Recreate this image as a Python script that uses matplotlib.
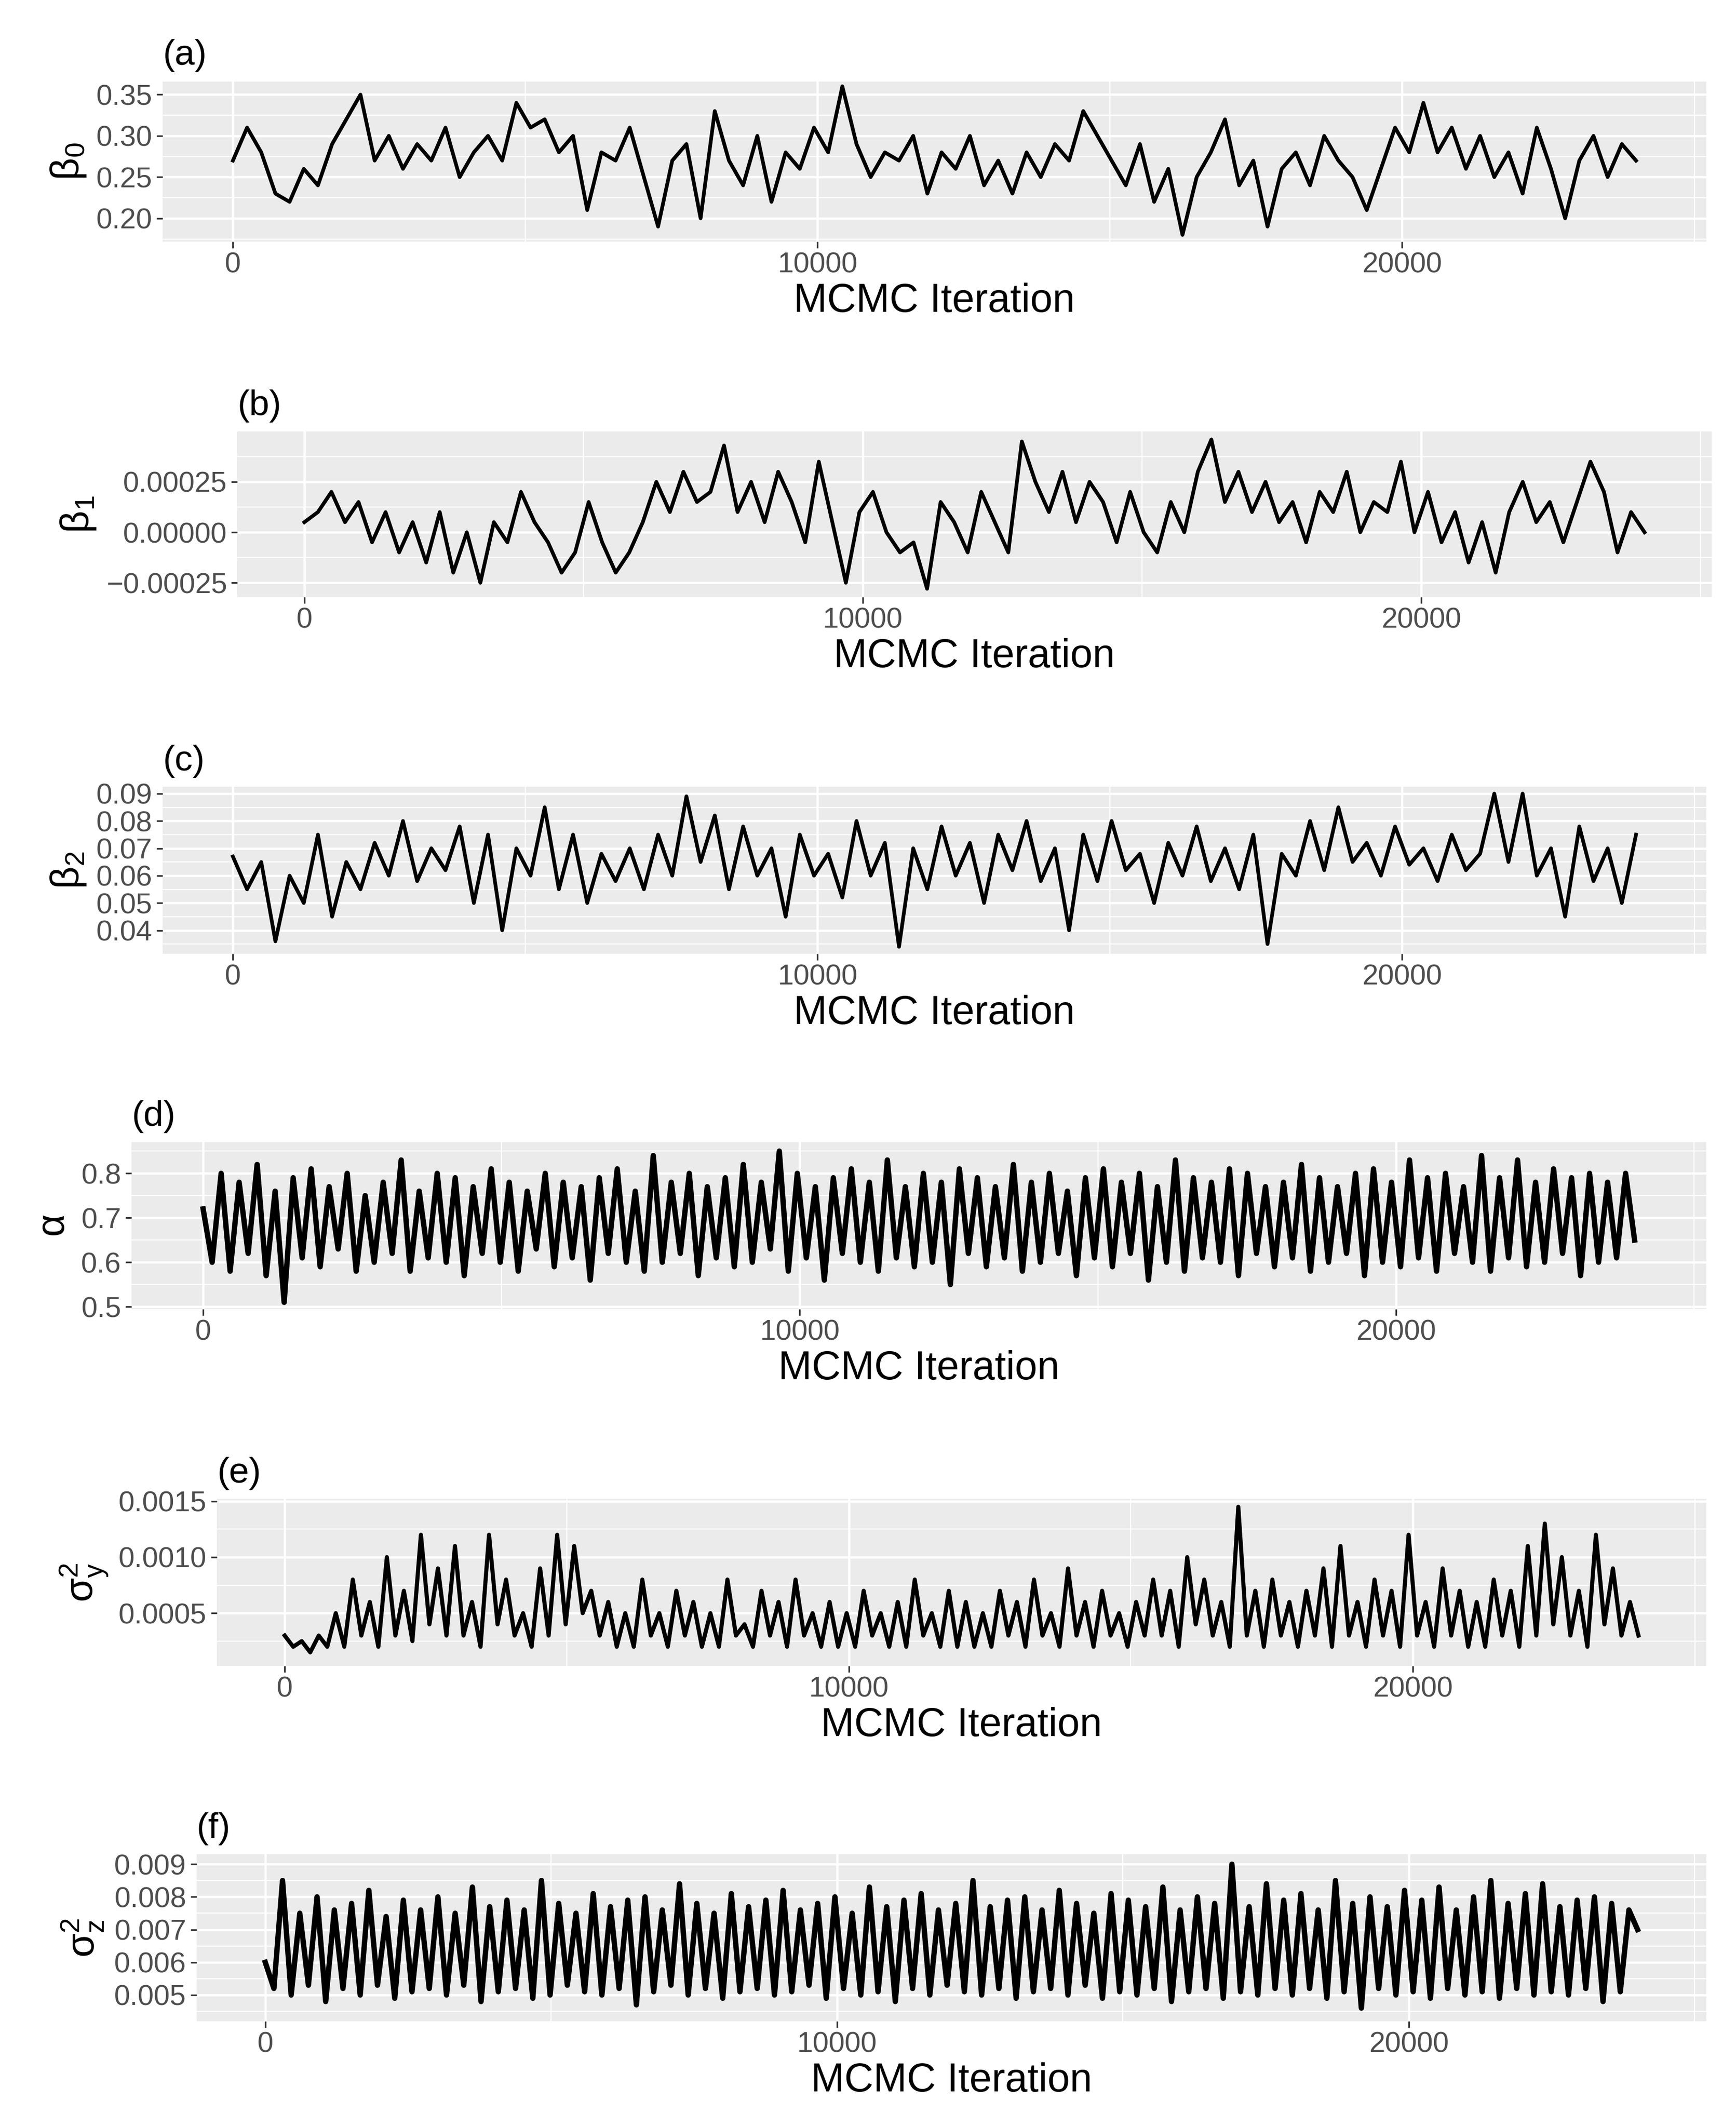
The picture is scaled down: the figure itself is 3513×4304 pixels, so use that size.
import numpy as np
import matplotlib
matplotlib.use("Agg")
import matplotlib.pyplot as plt
from matplotlib.ticker import FixedLocator

plt.rcParams['font.family'] = ['Liberation Sans', 'DejaVu Sans']

beta0 = [0.27,0.31,0.28,0.23,0.22,0.26,0.24,0.29,0.32,0.35,
         0.27,0.30,0.26,0.29,0.27,0.31,0.25,0.28,0.30,0.27,
         0.34,0.31,0.32,0.28,0.30,0.21,0.28,0.27,0.31,0.25,
         0.19,0.27,0.29,0.20,0.33,0.27,0.24,0.30,0.22,0.28,
         0.26,0.31,0.28,0.36,0.29,0.25,0.28,0.27,0.30,0.23,
         0.28,0.26,0.30,0.24,0.27,0.23,0.28,0.25,0.29,0.27,
         0.33,0.30,0.27,0.24,0.29,0.22,0.26,0.18,0.25,0.28,
         0.32,0.24,0.27,0.19,0.26,0.28,0.24,0.30,0.27,0.25,
         0.21,0.26,0.31,0.28,0.34,0.28,0.31,0.26,0.30,0.25,
         0.28,0.23,0.31,0.26,0.20,0.27,0.30,0.25,0.29,0.27]
beta1_e4 = [0.5,1.0,2.0,0.5,1.5,-0.5,1.0,-1.0,0.5,-1.5,
            1.0,-2.0,0.0,-2.5,0.5,-0.5,2.0,0.5,-0.5,-2.0,
            -1.0,1.5,-0.5,-2.0,-1.0,0.5,2.5,1.0,3.0,1.5,
            2.0,4.3,1.0,2.5,0.5,3.0,1.5,-0.5,3.5,0.5,
            -2.5,1.0,2.0,0.0,-1.0,-0.5,-2.8,1.5,0.5,-1.0,
            2.0,0.5,-1.0,4.5,2.5,1.0,3.0,0.5,2.5,1.5,
            -0.5,2.0,0.0,-1.0,1.5,0.0,3.0,4.6,1.5,3.0,
            1.0,2.5,0.5,1.5,-0.5,2.0,1.0,3.0,0.0,1.5,
            1.0,3.5,0.0,2.0,-0.5,1.0,-1.5,0.5,-2.0,1.0,
            2.5,0.5,1.5,-0.5,1.5,3.5,2.0,-1.0,1.0,0.0]
beta2 = [0.067,0.055,0.065,0.036,0.060,0.050,0.075,0.045,0.065,0.055,
         0.072,0.060,0.080,0.058,0.070,0.062,0.078,0.050,0.075,0.040,
         0.070,0.060,0.085,0.055,0.075,0.050,0.068,0.058,0.070,0.055,
         0.075,0.060,0.089,0.065,0.082,0.055,0.078,0.060,0.070,0.045,
         0.075,0.060,0.068,0.052,0.080,0.060,0.072,0.034,0.070,0.055,
         0.078,0.060,0.072,0.050,0.075,0.062,0.080,0.058,0.070,0.040,
         0.075,0.058,0.080,0.062,0.068,0.050,0.072,0.060,0.078,0.058,
         0.070,0.055,0.075,0.035,0.068,0.060,0.080,0.062,0.085,0.065,
         0.072,0.060,0.078,0.064,0.070,0.058,0.075,0.062,0.068,0.090,
         0.065,0.090,0.060,0.070,0.045,0.078,0.058,0.070,0.050,0.075]
alpha = [0.72,0.60,0.80,0.58,0.78,0.62,0.82,0.57,0.76,0.51,0.79,0.61,0.81,0.59,0.77,0.63,0.80,0.58,0.75,0.60,
         0.78,0.62,0.83,0.58,0.76,0.61,0.80,0.60,0.79,0.57,0.77,0.62,0.81,0.60,0.78,0.58,0.76,0.63,0.80,0.59,
         0.78,0.61,0.77,0.56,0.79,0.62,0.81,0.60,0.76,0.58,0.84,0.60,0.78,0.62,0.80,0.57,0.77,0.61,0.79,0.59,
         0.82,0.60,0.78,0.63,0.85,0.58,0.80,0.61,0.77,0.56,0.79,0.62,0.81,0.60,0.78,0.58,0.83,0.61,0.77,0.59,
         0.80,0.60,0.78,0.55,0.81,0.62,0.79,0.59,0.77,0.61,0.82,0.58,0.78,0.60,0.80,0.62,0.76,0.57,0.79,0.61,
         0.81,0.59,0.78,0.62,0.80,0.56,0.77,0.60,0.83,0.58,0.79,0.61,0.78,0.60,0.81,0.57,0.80,0.62,0.77,0.59,
         0.78,0.61,0.82,0.58,0.79,0.60,0.77,0.62,0.80,0.57,0.81,0.60,0.78,0.59,0.83,0.61,0.79,0.58,0.80,0.62,
         0.77,0.60,0.84,0.58,0.79,0.61,0.83,0.59,0.78,0.60,0.81,0.62,0.79,0.57,0.80,0.60,0.78,0.61,0.80,0.65]
sigma_y_e4 = [3,2,2.5,1.5,3,2,5,2,8,3,6,2,10,3,7,2.5,12,4,9,3,
              11,3,6,2,12,4,8,3,5,2,9,3,12,4,11,5,7,3,6,2,
              5,2,8,3,5,2,7,3,6,2,5,2,8,3,4,2,7,3,6,2,
              8,3,5,2,6,2,5,2,7,3,5,2,6,2,8,3,5,2,7,2,
              6,2,5,2,7,3,6,2,8,3,5,2,9,3,6,2,7,3,5,2,
              6,3,8,3,7,2,10,4,8,3,6,2,14.5,3,7,2,8,3,6,2,
              7,3,9,2,11,3,6,2,8,3,7,2,12,3,6,2,9,3,7,2,
              6,2,8,3,7,2,11,3,13,4,10,3,7,2,12,4,9,3,6,3]
sigma_z_e3 = [6.0,5.2,8.5,5.0,7.5,5.3,8.0,4.8,7.6,5.2,7.8,5.0,8.2,5.3,7.4,4.9,7.9,5.1,7.6,5.2,
              8.0,5.0,7.5,5.3,8.3,4.8,7.7,5.1,7.9,5.2,7.6,4.9,8.5,5.0,7.8,5.3,7.5,5.1,8.1,5.0,
              7.7,5.2,7.9,4.7,8.0,5.1,7.6,5.3,8.4,5.0,7.8,5.2,7.5,4.9,8.1,5.1,7.7,5.2,7.9,5.0,
              8.2,5.1,7.6,5.3,7.8,4.9,8.0,5.2,7.5,5.0,8.3,5.1,7.7,4.8,7.9,5.2,8.1,5.0,7.6,5.3,
              7.8,5.1,8.5,5.0,7.7,5.2,7.9,4.9,8.0,5.1,7.6,5.2,8.2,5.0,7.8,5.3,7.5,4.9,8.1,5.1,
              7.9,5.0,7.7,5.2,8.3,4.8,7.6,5.1,8.0,5.2,7.8,4.9,9.0,5.1,7.7,5.0,8.4,5.2,7.9,5.0,
              8.1,5.2,7.6,4.9,8.5,5.1,7.8,4.6,8.0,5.2,7.7,5.0,8.2,5.1,7.9,4.9,8.3,5.2,7.6,5.0,
              8.0,5.1,8.5,4.9,7.8,5.2,8.1,5.0,8.4,5.1,7.7,5.0,7.9,5.2,8.0,4.8,7.8,5.1,7.6,7.0]

series = [np.array(beta0), np.array(beta1_e4) * 1e-4, np.array(beta2),
          np.array(alpha), np.array(sigma_y_e4) * 1e-4, np.array(sigma_z_e3) * 1e-3]
titles = ['(a)', '(b)', '(c)', '(d)', '(e)', '(f)']
ylabels = [r'$\mathregular{β_0}$', r'$\mathregular{β_1}$', r'$\mathregular{β_2}$',
           r'$\mathregular{α}$', r'$\mathregular{σ^2_y}$', r'$\mathregular{σ^2_z}$']
yticks = [[0.20, 0.25, 0.30, 0.35], [-0.00025, 0, 0.00025], [0.04, 0.05, 0.06, 0.07, 0.08, 0.09],
          [0.5, 0.6, 0.7, 0.8], [0.0005, 0.0010, 0.0015], [0.005, 0.006, 0.007, 0.008, 0.009]]
yticklabels = [['0.20', '0.25', '0.30', '0.35'], ['\u22120.00025', '0.00000', '0.00025'],
               ['0.04', '0.05', '0.06', '0.07', '0.08', '0.09'], ['0.5', '0.6', '0.7', '0.8'],
               ['0.0005', '0.0010', '0.0015'], ['0.005', '0.006', '0.007', '0.008', '0.009']]
ylims = [(0.172, 0.366), (-0.00032, 0.00050), (0.0315, 0.0925), (0.495, 0.87), (0.00003, 0.00152), (0.0042, 0.0093)]
xticks = [0, 10000, 20000]
linewidths = [1.8, 1.8, 1.8, 2.6, 2.0, 2.6]

W, H = 1280, 1568
boxes = [(120, 60, 1258, 178), (175, 318, 1262, 440), (120, 580, 1258, 703),
         (97, 842, 1258, 965), (160, 1105, 1258, 1228), (145, 1367, 1258, 1490)]

fig = plt.figure(figsize=(3513 / 300, 4304 / 300), dpi=300)
for i in range(6):
    x0, y0, x1, y1 = boxes[i]
    ax = fig.add_axes([x0 / W, 1 - y1 / H, (x1 - x0) / W, (y1 - y0) / H])
    y = series[i]
    it = np.linspace(0, 24000, len(y))
    ax.set_facecolor('#EBEBEB')
    ax.plot(it, y, color='black', lw=linewidths[i], zorder=3)
    ax.set_xlim(-1200, 25200)
    ax.set_ylim(*ylims[i])
    ax.set_xticks(xticks)
    ax.set_xticklabels(['0', '10000', '20000'])
    ax.xaxis.set_minor_locator(FixedLocator([5000, 15000, 25000]))
    t = yticks[i]
    ax.set_yticks(t)
    ax.set_yticklabels(yticklabels[i])
    step = t[1] - t[0]
    ax.yaxis.set_minor_locator(FixedLocator([t[0] - step / 2] + [v + step / 2 for v in t]))
    ax.grid(True, which='major', color='white', lw=1.1)
    ax.grid(True, which='minor', color='white', lw=0.55)
    ax.set_axisbelow(True)
    for s in ax.spines.values():
        s.set_visible(False)
    ax.tick_params(which='major', length=3, width=0.8, color='#333333', labelsize=14,
                   labelcolor='#4D4D4D', pad=2)
    ax.tick_params(which='minor', length=0)
    ax.set_xlabel('MCMC Iteration', fontsize=19.5, labelpad=2)
    ax.set_ylabel(ylabels[i], fontsize=19, labelpad=4)
    ax.set_title(titles[i], loc='left', fontsize=17.5, pad=8)

fig.savefig('out.png', dpi=300)
